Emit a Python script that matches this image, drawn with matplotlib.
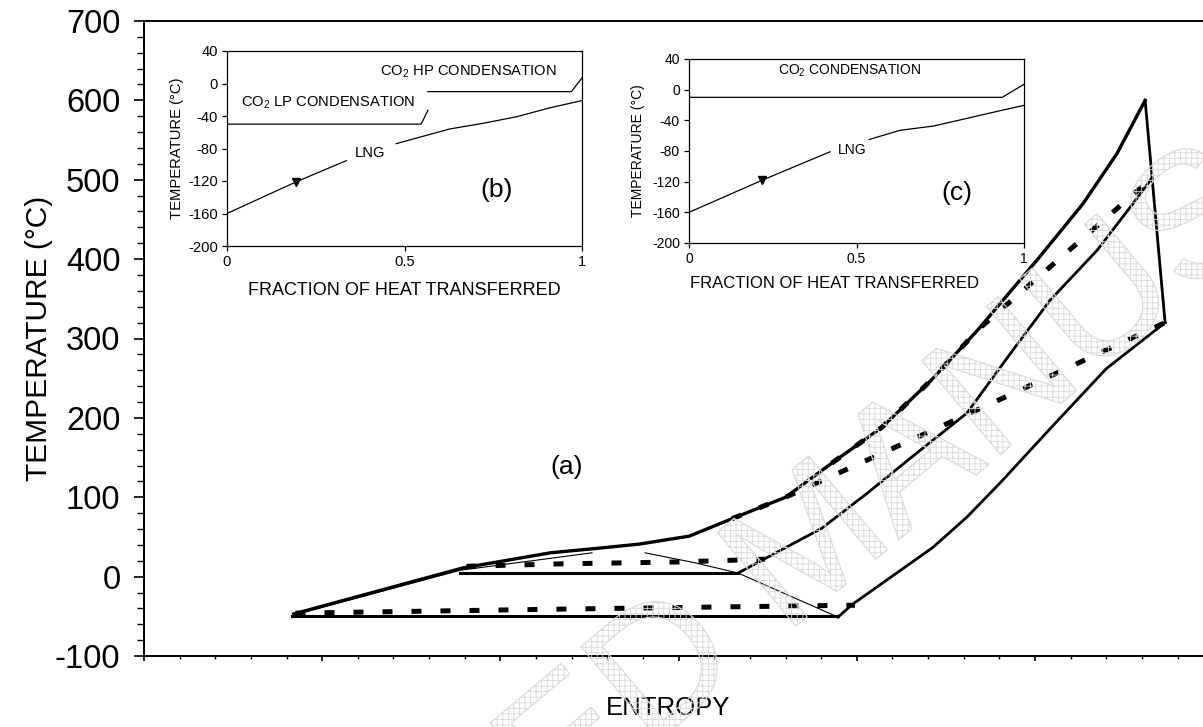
import numpy as np
import matplotlib
matplotlib.use("Agg")
import matplotlib.pyplot as plt
from matplotlib.textpath import TextPath
from matplotlib.patches import PathPatch
from matplotlib.font_manager import FontProperties
from matplotlib.transforms import Affine2D

plt.rcParams["font.family"] = ["Liberation Sans", "DejaVu Sans"]
plt.rcParams["mathtext.fontset"] = "custom"
plt.rcParams["mathtext.rm"] = "Liberation Sans"
plt.rcParams["axes.unicode_minus"] = False
plt.rcParams["hatch.linewidth"] = 0.6

# ---- main T-s diagram (a), entropy in arbitrary units ----
top_s = [4.2, 8.95, 11.4, 12.8, 13.9, 15.3, 16.5, 18.0, 19.3, 20.7, 22.1, 23.4, 25.06, 26.35, 27.3, 28.09]
top_t = [-47, 11, 30, 36, 41, 51, 73, 100, 143, 188, 248, 311, 399, 470, 533, 600]

expand_s = [28.09, 28.65]
expand_t = [600, 320]

low_s = [19.47, 19.89, 22.14, 23.09, 24.02, 25.5, 27.0, 28.65]
low_t = [-51, -34.5, 37, 75, 118, 190, 262, 320]

mid_s = [16.67, 19.02, 20.29, 21.69, 23.09, 24.21, 25.42, 26.74, 27.75, 28.28]
mid_t = [4.5, 61, 105, 156, 206, 275, 348, 411, 470, 502]

lp_line_s = [4.15, 19.47]
lp_line_t = [-50, -50]
hp_line_s = [8.87, 16.67]
hp_line_t = [5, 5]

sat_liq_s = [4.24, 8.87, 12.57]
sat_liq_t = [-48, 8, 30]
sat_vap_s = [14.06, 15.4, 16.67, 19.47]
sat_vap_t = [30, 18, 4.5, -51]

dash_lp_s = [4.25, 11.6, 15.7, 19.95]
dash_lp_t = [-46, -41, -38.5, -36]
dash_hp_s = [9.05, 11.6, 15.0, 17.42]
dash_hp_t = [13, 16, 18.5, 22]
dash_rec_s = [16.5, 18.0, 23.96, 28.65]
dash_rec_t = [73, 100, 222, 320]
dash_top_s = [19.3, 20.7, 22.1, 23.4, 28.28]
dash_top_t = [143, 188, 248, 311, 502]

# ---- inset (b) ----
b_lng1_x = [0, 0.195, 0.336]
b_lng1_t = [-160, -121, -95]
b_lng2_x = [0.477, 0.627, 0.721, 0.815, 0.909, 1.0]
b_lng2_t = [-74, -56, -49, -41, -30, -21]
b_lp_x = [0, 0.547, 0.566]
b_lp_t = [-50, -50, -33]
b_hp_x = [0.566, 0.97, 1.0]
b_hp_t = [-10, -10, 7]
b_mark = (0.195, -121)

# ---- inset (c) ----
c_lng1_x = [0, 0.219, 0.421]
c_lng1_t = [-160, -118, -81]
c_lng2_x = [0.538, 0.63, 0.729, 0.829, 0.928, 1.0]
c_lng2_t = [-65, -53, -47.5, -37.5, -27.5, -20.5]
c_co2_x = [0, 0.935, 1.0]
c_co2_t = [-10, -10, 7]
c_mark = (0.219, -118)

W, H = 1203, 727
fig = plt.figure(figsize=(W / 100, H / 100), dpi=100)

# watermark, anchored on the centre of the "U"
wm_text = "ACCEPTED MANUSCRIPT"
fp = FontProperties(family="Liberation Sans")
wm_size = 178
tp = TextPath((0, 0), wm_text, size=wm_size, prop=fp)
x_a = TextPath((0, 0), "ACCEPTED MAN", size=wm_size, prop=fp).get_extents().x1
x_b = TextPath((0, 0), "ACCEPTED MANU", size=wm_size, prop=fp).get_extents().x1
u_cx, u_cy = (x_a + x_b) / 2, 0.36 * wm_size
tr = (Affine2D().translate(-u_cx, -u_cy).rotate_deg(40).translate(1085, H - 300)
      + Affine2D().scale(1 / 100) + fig.dpi_scale_trans)
wm = PathPatch(tp, transform=tr, facecolor="none", edgecolor="#d9d9d9", hatch="+++", lw=0.8, zorder=0)
fig.patches.append(wm)

ax = fig.add_axes([144 / W, (H - 656) / H, 1 - 144 / W, (656 - 21) / H])
ax.patch.set_alpha(0)
ax.set_xlim(0, (W - 144) / 35.64)
ax.set_ylim(-100, 700)
ax.spines["right"].set_visible(False)
for s in ["left", "bottom", "top"]:
    ax.spines[s].set_linewidth(1.4)
ax.set_yticks(np.arange(-100, 701, 100))
ax.set_yticks(np.arange(-100, 701, 20), minor=True)
ax.set_xticks(np.arange(0, 30, 5))
ax.set_xticks(np.arange(0, 30, 1), minor=True)
ax.set_xticklabels([])
ax.tick_params(axis="y", which="major", length=7, width=1.2, labelsize=23.5, pad=10)
ax.tick_params(axis="y", which="minor", length=5, width=1.0)
ax.tick_params(axis="x", which="major", length=3.6, width=1.2)
ax.tick_params(axis="x", which="minor", length=2.4, width=1.0)
ax.set_ylabel("TEMPERATURE (°C)", fontsize=21.5)
ax.yaxis.set_label_coords((53 - 144) / 1059, 0.5)
ax.set_xlabel("ENTROPY", fontsize=18.5)
ax.xaxis.set_label_coords((668 - 144) / 1059, -(696 - 656) / 635)

k = "black"
ax.plot(top_s, top_t, color=k, lw=2.4, zorder=3)
ax.plot(expand_s, expand_t, color=k, lw=2.0, zorder=3)
ax.plot(low_s, low_t, color=k, lw=2.0, zorder=3)
ax.plot(mid_s, mid_t, color=k, lw=2.0, zorder=3)
ax.plot(lp_line_s, lp_line_t, color=k, lw=2.2, zorder=3)
ax.plot(hp_line_s, hp_line_t, color=k, lw=2.2, zorder=3)
ax.plot(sat_liq_s, sat_liq_t, color=k, lw=0.8, zorder=3)
ax.plot(sat_vap_s, sat_vap_t, color=k, lw=0.8, zorder=3)
for xs, ts in [(dash_lp_s, dash_lp_t), (dash_hp_s, dash_hp_t),
               (dash_rec_s, dash_rec_t), (dash_top_s, dash_top_t)]:
    ax.plot(xs, ts, color=k, lw=3.6, dashes=(2.0, 3.8), dash_capstyle="butt", zorder=4)
ax.text(11.85, 138, "(a)", fontsize=19, ha="center", va="center")


def style_inset(a, fs, xfs, xlab_x, xlab_y, ylab_x):
    a.set_xlim(0, 1)
    a.set_ylim(-200, 40)
    a.set_xticks([0, 0.5, 1])
    a.set_xticklabels(["0", "0.5", "1"])
    a.set_yticks(np.arange(-200, 41, 40))
    for s in a.spines.values():
        s.set_linewidth(0.9)
    a.tick_params(length=3.5, width=0.9, labelsize=fs, pad=3)
    a.set_ylabel("TEMPERATURE (°C)", fontsize=fs)
    a.set_xlabel("FRACTION OF HEAT TRANSFERRED", fontsize=xfs)
    a.yaxis.set_label_coords(ylab_x, 0.5)
    a.xaxis.set_label_coords(xlab_x, xlab_y)


axb = fig.add_axes([227 / W, (H - 246) / H, 355 / W, 195 / H])
style_inset(axb, 10.6, 13.0, 0.5, -(282 - 246) / 195, -(227 - 184) / 355)
axb.plot(b_lng1_x, b_lng1_t, color=k, lw=0.9)
axb.plot(b_lng2_x, b_lng2_t, color=k, lw=0.9)
axb.plot(b_lp_x, b_lp_t, color=k, lw=0.9)
axb.plot(b_hp_x, b_hp_t, color=k, lw=0.9)
axb.plot(*b_mark, marker="v", color=k, ms=6)
axb.text(0.285, -24, "CO$_\\mathrm{2}$ LP CONDENSATION", fontsize=10.6, ha="center", va="center")
axb.text(0.679, 15, "CO$_\\mathrm{2}$ HP CONDENSATION", fontsize=10.6, ha="center", va="center")
axb.text(0.402, -85, "LNG", fontsize=10.6, ha="center", va="center")
axb.text(0.759, -131, "(b)", fontsize=19, ha="center", va="center")

axc = fig.add_axes([689 / W, (H - 243) / H, 335 / W, 184 / H])
style_inset(axc, 10, 12.0, (834 - 689) / 335, -(276 - 243) / 184, -(689 - 645) / 335)
axc.plot(c_lng1_x, c_lng1_t, color=k, lw=0.9)
axc.plot(c_lng2_x, c_lng2_t, color=k, lw=0.9)
axc.plot(c_co2_x, c_co2_t, color=k, lw=0.9)
axc.plot(*c_mark, marker="v", color=k, ms=6)
axc.text(0.48, 25, "CO$_\\mathrm{2}$ CONDENSATION", fontsize=10, ha="center", va="center")
axc.text(0.486, -79, "LNG", fontsize=10, ha="center", va="center")
axc.text(0.80, -135, "(c)", fontsize=19, ha="center", va="center")

fig.savefig("out.png", dpi=100)
